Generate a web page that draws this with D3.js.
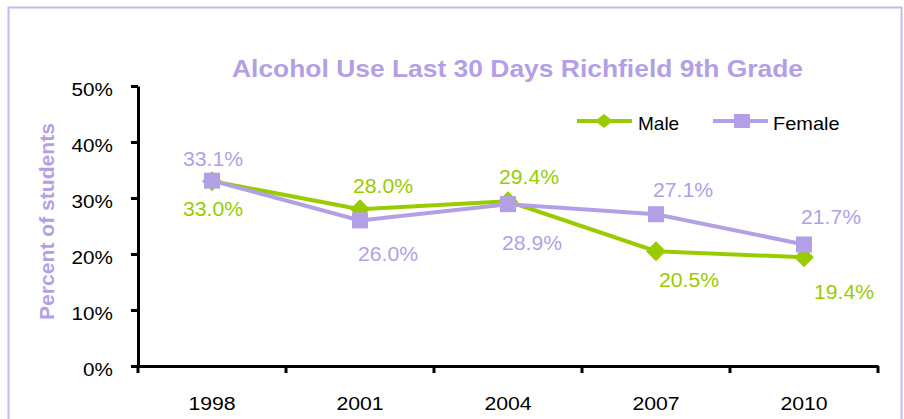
<!DOCTYPE html>
<html><head><meta charset="utf-8">
<script src="https://cdn.jsdelivr.net/npm/d3@7"></script>
<style>body{margin:0;background:#fff}svg{display:block;font-family:"Liberation Sans",Arial,sans-serif}</style>
</head><body><svg id="c" width="904" height="419"></svg>
<script>
const years = ["1998","2001","2004","2007","2010"];
const male = [33.0, 28.0, 29.4, 20.5, 19.4];
const female = [33.1, 26.0, 28.9, 27.1, 21.7];
const yTicks = [0,10,20,30,40,50];
const title = "Alcohol Use Last 30 Days Richfield 9th Grade";
const yTitle = "Percent of students";
const seriesNames = ["Male","Female"];
// label placement (layout): [dx, dy] relative to point
const maleLabelOff = [[1,35],[23,-16],[21,-17],[33,36],[40,42]];
const femaleLabelOff = [[1,-15],[28,41],[24,46],[27,-17],[27,-20]];

const green = "#99cc00", lav = "#b39fe6";
const svg = d3.select("#c");
function stretch(sel, k){
  sel.each(function(){
    const w = this.getComputedTextLength();
    this.setAttribute("textLength", w*k);
    this.setAttribute("lengthAdjust","spacingAndGlyphs");
  });
}
svg.append("rect").attr("x",8.5).attr("y",7.5).attr("width",893).attr("height",430)
  .attr("fill","none").attr("stroke","#c9b7ee").attr("stroke-width",2);

const x = d3.scaleBand().domain(years).range([138,878]);
const y = d3.scaleLinear().domain([0,50]).range([366,86]);
const cx = d => x(d)+x.bandwidth()/2;

const yAxis = svg.append("g").attr("transform","translate(138,0)")
  .call(d3.axisLeft(y).tickValues(yTicks).tickFormat(d=>d+"%").tickSize(7).tickSizeOuter(0));
const xAxis = svg.append("g").attr("transform","translate(0,366)")
  .call(d3.axisBottom(x).tickSize(0));
[yAxis,xAxis].forEach(g=>{
  g.select(".domain").attr("stroke","#000").attr("stroke-width",3);
  g.selectAll("text").attr("font-size",18).attr("fill","#000").attr("font-family","Liberation Sans, Arial, sans-serif");
});
yAxis.selectAll(".tick line").attr("stroke-width",3);
yAxis.selectAll("text").attr("x",-25).attr("dy",null).attr("y",9);
xAxis.selectAll("text").attr("dy",null).attr("y",44);
stretch(yAxis.selectAll("text"),1.15);
stretch(xAxis.selectAll("text"),1.18);
// category boundary ticks
const bounds = years.map(d=>x(d)).concat([x(years[years.length-1])+x.bandwidth()]);
svg.append("g").selectAll("line").data(bounds).join("line")
  .attr("x1",d=>d).attr("x2",d=>d).attr("y1",366).attr("y2",373)
  .attr("stroke","#000").attr("stroke-width",3);

svg.append("text").attr("x",517.5).attr("y",77).attr("text-anchor","middle")
  .attr("font-size",24).attr("font-weight","bold").attr("fill",lav)
  .attr("textLength",571).attr("lengthAdjust","spacingAndGlyphs").text(title);
svg.append("text").attr("transform","translate(54,221.5) rotate(-90)").attr("text-anchor","middle")
  .attr("font-size",20).attr("font-weight","bold").attr("fill",lav)
  .attr("textLength",197).attr("lengthAdjust","spacingAndGlyphs").text(yTitle);

const line = d3.line().x((d,i)=>cx(years[i])).y(d=>y(d));
function diam(g, px, py, sx, sy){
  g.append("path").attr("d",`M${px},${py-sy}L${px+sx},${py}L${px},${py+sy}L${px-sx},${py}Z`).attr("fill",green);
}
// male series
svg.append("path").datum(male).attr("d",line).attr("fill","none").attr("stroke",green).attr("stroke-width",4);
const mg = svg.append("g");
male.forEach((v,i)=>diam(mg,cx(years[i]),y(v),10,10));
// female series
svg.append("path").datum(female).attr("d",line).attr("fill","none").attr("stroke",lav).attr("stroke-width",4);
svg.append("g").selectAll("rect").data(female).join("rect")
  .attr("x",(d,i)=>cx(years[i])-8).attr("y",d=>y(d)-8).attr("width",16).attr("height",16).attr("fill",lav);

const ml = svg.append("g").selectAll("text").data(male).join("text")
  .attr("x",(d,i)=>cx(years[i])+maleLabelOff[i][0]).attr("y",(d,i)=>y(d)+maleLabelOff[i][1])
  .attr("text-anchor","middle").attr("font-size",20).attr("fill",green).text(d=>d.toFixed(1)+"%");
const fl = svg.append("g").selectAll("text").data(female).join("text")
  .attr("x",(d,i)=>cx(years[i])+femaleLabelOff[i][0]).attr("y",(d,i)=>y(d)+femaleLabelOff[i][1])
  .attr("text-anchor","middle").attr("font-size",20).attr("fill",lav).text(d=>d.toFixed(1)+"%");
stretch(ml,1.06); stretch(fl,1.06);

// legend
const lg = svg.append("g");
lg.append("line").attr("x1",577).attr("x2",632).attr("y1",121).attr("y2",121).attr("stroke",green).attr("stroke-width",4);
diam(lg,604,121,9,7);
lg.append("text").attr("x",638).attr("y",130).attr("font-size",19).text(seriesNames[0]);
lg.append("line").attr("x1",713).attr("x2",768).attr("y1",121).attr("y2",121).attr("stroke",lav).attr("stroke-width",4);
lg.append("rect").attr("x",734).attr("y",114).attr("width",16).attr("height",14).attr("fill",lav);
const t2 = lg.append("text").attr("x",773).attr("y",130).attr("font-size",19).text(seriesNames[1]);
stretch(t2,1.05);
</script></body></html>
